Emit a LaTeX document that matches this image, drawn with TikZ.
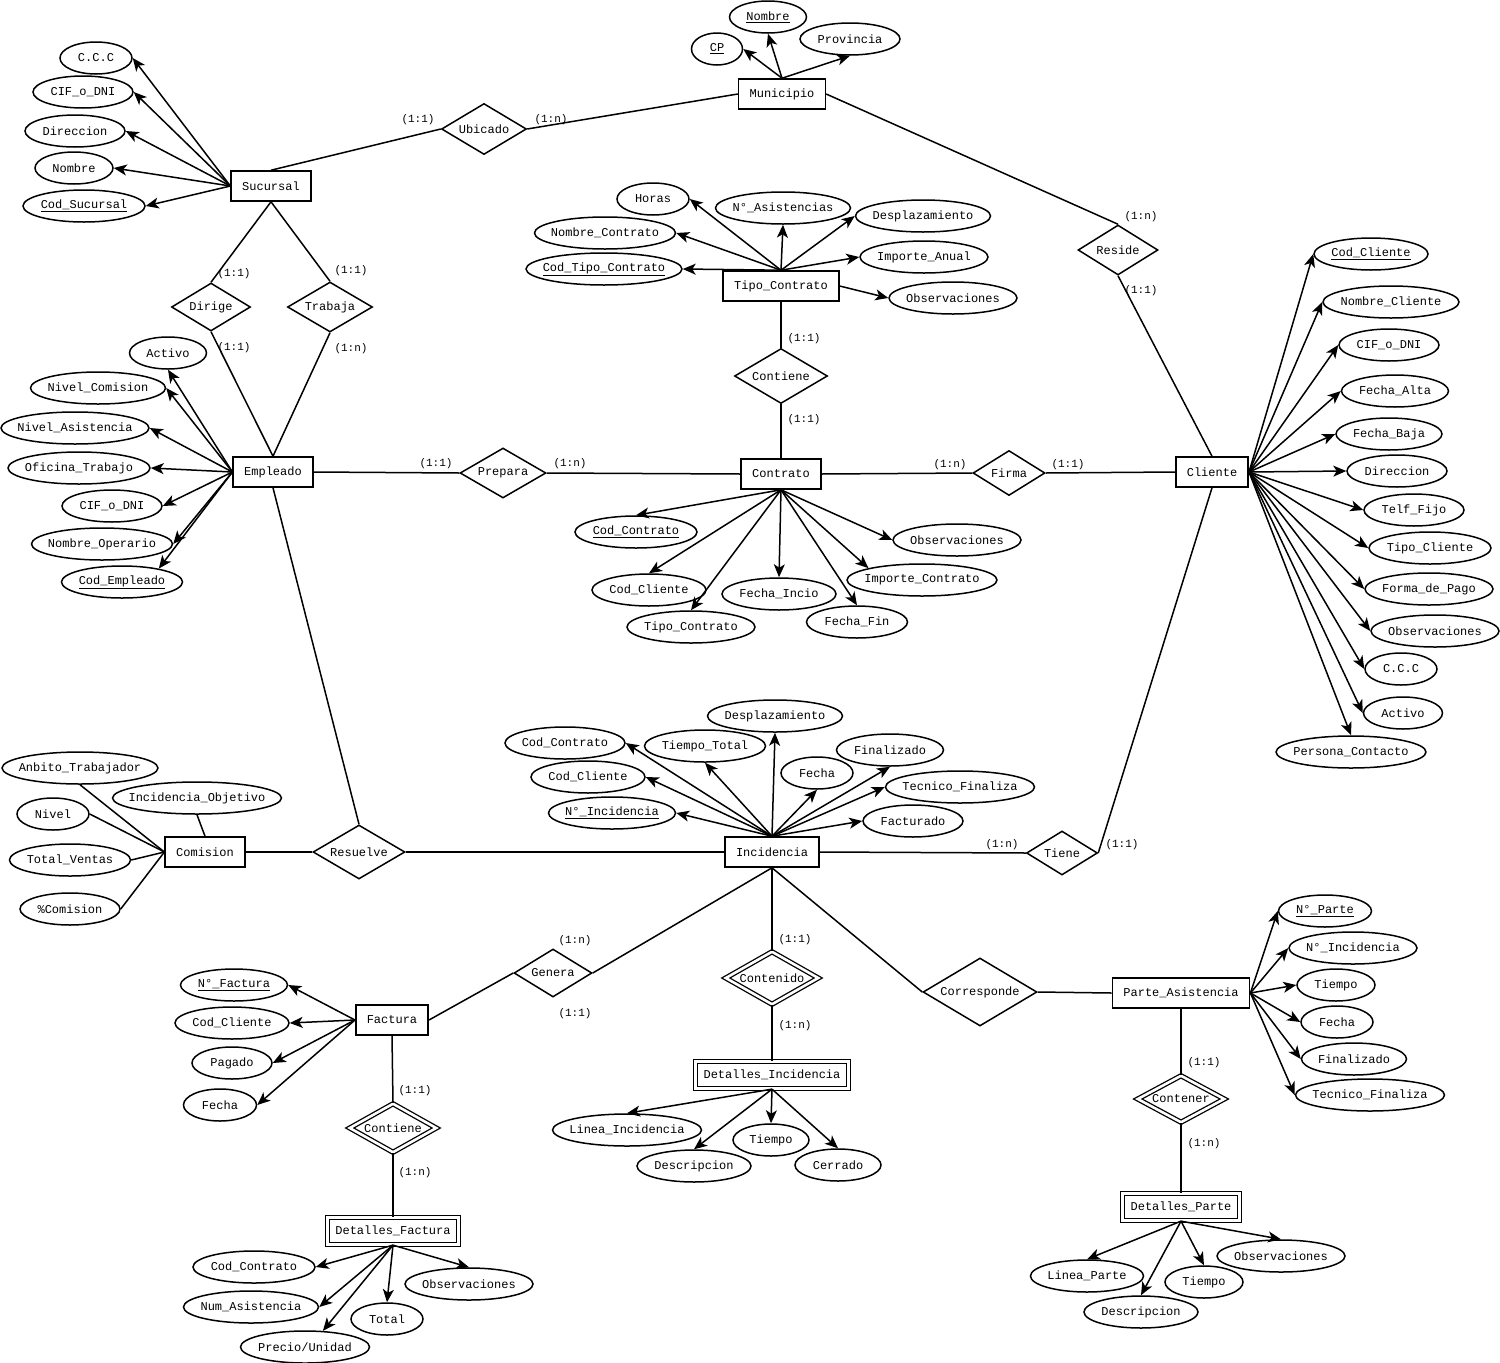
\documentclass[tikz,border=0pt]{standalone}
\usepackage{fontspec}
\usepackage{tikz}
\usetikzlibrary{shapes.geometric,arrows.meta}
\newfontfamily\ermono{Liberation Mono}
\newcommand{\cn}[1]{\makebox[0pt]{#1}}

\begin{document}
\begin{tikzpicture}[
  x=1pt, y=-1pt,
  font=\ermono\fontsize{12}{14}\selectfont,
  entity/.style={rectangle, draw, line width=1.6pt, minimum height=30pt, inner xsep=11pt, inner ysep=0pt},
  weak/.style={rectangle, draw, line width=1.3pt, double, double distance=2.6pt, minimum height=27pt, inner xsep=8pt, inner ysep=0pt},
  rel/.style 2 args={diamond, draw, line width=1.5pt, minimum width=#1, minimum height=#2, inner sep=0pt},
  weakrel/.style 2 args={diamond, draw, line width=1.3pt, double, double distance=2.6pt, minimum width=#1, minimum height=#2, inner sep=0pt},
  attr/.style={ellipse, draw, line width=1.5pt, minimum width=#1, minimum height=32pt, inner sep=0pt},
  card/.style={font=\ermono\fontsize{11}{12}\selectfont, inner sep=0pt},
  arrow/.style={-{Stealth[length=13pt, width=11pt, inset=3.5pt]}, line width=1.5pt},
  link/.style={line width=1.5pt}
]
  \useasboundingbox (0,0) rectangle (1500,1363);

  % Entities
  \node[entity] (sucursal) at (271,186) {Sucursal};
  \node[entity] (municipio) at (782,94) {Municipio};
  \node[entity] (tipocontrato) at (781,286) {Tipo\_Contrato};
  \node[entity] (empleado) at (273,472) {Empleado};
  \node[entity] (contrato) at (781,474) {Contrato};
  \node[entity] (cliente) at (1212,472) {Cliente};
  \node[entity] (comision) at (205,852) {Comision};
  \node[entity] (incidencia) at (772,852) {Incidencia};
  \node[entity] (factura) at (392,1020) {Factura};
  \node[entity] (parte) at (1181,993) {Parte\_Asistencia};
  \node[weak] (detinc) at (772,1075) {Detalles\_Incidencia};
  \node[weak] (detfact) at (393,1231) {Detalles\_Factura};
  \node[weak] (detparte) at (1181,1207) {Detalles\_Parte};

  % Relationships
  \node[rel={85}{51}] (ubicado) at (484,129) {\cn{Ubicado}};
  \node[rel={80}{50}] (reside) at (1118,250) {\cn{Reside}};
  \node[rel={79}{48}] (dirige) at (211,307) {\cn{Dirige}};
  \node[rel={85}{50}] (trabaja) at (330,307) {\cn{Trabaja}};
  \node[rel={93}{55}] (contiene) at (781,376) {\cn{Contiene}};
  \node[rel={86}{50}] (prepara) at (503,473) {\cn{Prepara}};
  \node[rel={72}{45}] (firma) at (1009,473) {\cn{Firma}};
  \node[rel={92}{54}] (resuelve) at (359,852) {\cn{Resuelve}};
  \node[rel={71}{44}] (tiene) at (1062,853) {\cn{Tiene}};
  \node[rel={78}{48}] (genera) at (553,973) {\cn{Genera}};
  \node[rel={114}{68}] (corresponde) at (980,992) {\cn{Corresponde}};
  \node[weakrel={93}{53}] (contenido) at (772,978) {\cn{Contenido}};
  \node[weakrel={87}{49}] (contienef) at (393,1128) {\cn{Contiene}};
  \node[weakrel={87}{47}] (contener) at (1181,1099) {\cn{Contener}};

  % Links between entities and relationships
  \draw[link] (sucursal.north) -- (ubicado.west);
  \draw[link] (ubicado.east) -- (municipio.west);
  \draw[link] (municipio.east) -- (reside.north);
  \draw[link] (reside.south) -- (cliente.north);
  \draw[link] (sucursal.south) -- (dirige.north);
  \draw[link] (dirige.south) -- (empleado.north);
  \draw[link] (sucursal.south) -- (trabaja.north);
  \draw[link] (trabaja.south) -- (empleado.north);
  \draw[link] (tipocontrato.south) -- (contiene.north);
  \draw[link] (contiene.south) -- (contrato.north);
  \draw[link] (empleado.east) -- (prepara.west);
  \draw[link] (prepara.east) -- (contrato.west);
  \draw[link] (contrato.east) -- (firma.west);
  \draw[link] (firma.east) -- (cliente.west);
  \draw[link] (empleado.south) -- (resuelve.north);
  \draw[link] (comision.east) -- (resuelve.west);
  \draw[link] (resuelve.east) -- (incidencia.west);
  \draw[link] (incidencia.east) -- (tiene.west);
  \draw[link] (tiene.east) -- (cliente.south);
  \draw[link] (incidencia.south) -- (genera.east);
  \draw[link] (genera.west) -- (factura.east);
  \draw[link] (incidencia.south) -- (contenido.north);
  \draw[link] (contenido.south) -- (detinc.north);
  \draw[link] (incidencia.south) -- (corresponde.west);
  \draw[link] (corresponde.east) -- (parte.west);
  \draw[link] (factura.south) -- (contienef.north);
  \draw[link] (contienef.south) -- (detfact.north);
  \draw[link] (parte.south) -- (contener.north);
  \draw[link] (contener.south) -- (detparte.north);

  % Cardinalities
  \node[card] (k1) at (418,120) {(1:1)};
  \node[card] (k2) at (551,120) {(1:n)};
  \node[card] (k3) at (1141,217) {(1:n)};
  \node[card] (k4) at (1141,291) {(1:1)};
  \node[card] (k5) at (234,274) {(1:1)};
  \node[card] (k6) at (234,348) {(1:1)};
  \node[card] (k7) at (351,271) {(1:1)};
  \node[card] (k8) at (351,349) {(1:n)};
  \node[card] (k9) at (804,339) {(1:1)};
  \node[card] (k10) at (804,420) {(1:1)};
  \node[card] (k11) at (436,464) {(1:1)};
  \node[card] (k12) at (570,464) {(1:n)};
  \node[card] (k13) at (950,465) {(1:n)};
  \node[card] (k14) at (1068,465) {(1:1)};
  \node[card] (k15) at (1002,845) {(1:n)};
  \node[card] (k16) at (1122,845) {(1:1)};
  \node[card] (k17) at (575,941) {(1:n)};
  \node[card] (k18) at (575,1014) {(1:1)};
  \node[card] (k19) at (795,940) {(1:1)};
  \node[card] (k20) at (795,1026) {(1:n)};
  \node[card] (k21) at (415,1091) {(1:1)};
  \node[card] (k22) at (415,1173) {(1:n)};
  \node[card] (k23) at (1204,1063) {(1:1)};
  \node[card] (k24) at (1204,1144) {(1:n)};

  % Sucursal attributes
  \node[attr=72] (sCCC) at (96,58) {\cn{C.C.C}};
  \node[attr=100] (sCIF) at (83,92) {\cn{CIF\_o\_DNI}};
  \node[attr=100] (sDir) at (75,131) {\cn{Direccion}};
  \node[attr=78] (sNom) at (74,168) {\cn{Nombre}};
  \node[attr=122] (sCod) at (84,206) {\cn{\underline{Cod\_Sucursal}}};
  \draw[arrow] (sucursal.west) -- (sCCC.east);
  \draw[arrow] (sucursal.west) -- (sCIF.east);
  \draw[arrow] (sucursal.west) -- (sDir.east);
  \draw[arrow] (sucursal.west) -- (sNom.east);
  \draw[arrow] (sucursal.west) -- (sCod.east);

  % Municipio attributes
  \node[attr=51] (mCP) at (717,49) {\cn{\underline{CP}}};
  \node[attr=77] (mNom) at (768,17) {\cn{\underline{Nombre}}};
  \node[attr=100] (mProv) at (850,39) {\cn{Provincia}};
  \draw[arrow] (municipio.north) -- (mCP.east);
  \draw[arrow] (municipio.north) -- (mNom.south);
  \draw[arrow] (municipio.north) -- (mProv.south);

  % Tipo_Contrato attributes
  \node[attr=72] (tHoras) at (653,199) {\cn{Horas}};
  \node[attr=135] (tNAsis) at (783,208) {\cn{N°\_Asistencias}};
  \node[attr=135] (tDesp) at (923,216) {\cn{Desplazamiento}};
  \node[attr=141] (tNomC) at (605,233) {\cn{Nombre\_Contrato}};
  \node[attr=156] (tCod) at (604,269) {\cn{\underline{Cod\_Tipo\_Contrato}}};
  \node[attr=128] (tImp) at (924,257) {\cn{Importe\_Anual}};
  \node[attr=128] (tObs) at (953,298) {\cn{Observaciones}};
  \draw[arrow] (tipocontrato.north) -- (tHoras.east);
  \draw[arrow] (tipocontrato.north) -- (tNAsis.south);
  \draw[arrow] (tipocontrato.north) -- (tDesp.west);
  \draw[arrow] (tipocontrato.north) -- (tNomC.east);
  \draw[arrow] (tipocontrato.north) -- (tCod.east);
  \draw[arrow] (tipocontrato.north) -- (tImp.west);
  \draw[arrow] (tipocontrato.east) -- (tObs.west);

  % Empleado attributes
  \node[attr=77] (eAct) at (168,353) {\cn{Activo}};
  \node[attr=135] (eNivC) at (98,388) {\cn{Nivel\_Comision}};
  \node[attr=148] (eNivA) at (75,428) {\cn{Nivel\_Asistencia}};
  \node[attr=142] (eOfi) at (79,468) {\cn{Oficina\_Trabajo}};
  \node[attr=100] (eCIF) at (112,506) {\cn{CIF\_o\_DNI}};
  \node[attr=141] (eNomO) at (102,544) {\cn{Nombre\_Operario}};
  \node[attr=121] (eCod) at (122,582) {\cn{\underline{Cod\_Empleado}}};
  \draw[arrow] (empleado.west) -- (eAct.south);
  \draw[arrow] (empleado.west) -- (eNivC.east);
  \draw[arrow] (empleado.west) -- (eNivA.east);
  \draw[arrow] (empleado.west) -- (eOfi.east);
  \draw[arrow] (empleado.west) -- (eCIF.east);
  \draw[arrow] (empleado.west) -- (eNomO.east);
  \draw[arrow] (empleado.west) -- (eCod.20);

  % Contrato attributes
  \node[attr=122] (cCod) at (636,532) {\cn{\underline{Cod\_Contrato}}};
  \node[attr=114] (cCli) at (649,590) {\cn{Cod\_Cliente}};
  \node[attr=128] (cTipo) at (691,627) {\cn{Tipo\_Contrato}};
  \node[attr=114] (cFIni) at (779,594) {\cn{Fecha\_Incio}};
  \node[attr=101] (cFFin) at (857,622) {\cn{Fecha\_Fin}};
  \node[attr=150] (cImp) at (922,580) {\cn{Importe\_Contrato}};
  \node[attr=128] (cObs) at (957,540) {\cn{Observaciones}};
  \draw[arrow] (contrato.south) -- (cCod.north);
  \draw[arrow] (contrato.south) -- (cCli.north);
  \draw[arrow] (contrato.south) -- (cTipo.north);
  \draw[arrow] (contrato.south) -- (cFIni.north);
  \draw[arrow] (contrato.south) -- (cFFin.north);
  \draw[arrow] (contrato.south) -- (cImp.north west);
  \draw[arrow] (contrato.south) -- (cObs.west);

  % Cliente attributes
  \node[attr=114] (lCod) at (1371,254) {\cn{\underline{Cod\_Cliente}}};
  \node[attr=136] (lNom) at (1391,302) {\cn{Nombre\_Cliente}};
  \node[attr=100] (lCIF) at (1389,345) {\cn{CIF\_o\_DNI}};
  \node[attr=107] (lAlta) at (1395,391) {\cn{Fecha\_Alta}};
  \node[attr=106] (lBaja) at (1389,434) {\cn{Fecha\_Baja}};
  \node[attr=100] (lDir) at (1397,471) {\cn{Direccion}};
  \node[attr=100] (lTelf) at (1414,510) {\cn{Telf\_Fijo}};
  \node[attr=122] (lTipo) at (1430,548) {\cn{Tipo\_Cliente}};
  \node[attr=128] (lForma) at (1429,589) {\cn{Forma\_de\_Pago}};
  \node[attr=128] (lObs) at (1435,631) {\cn{Observaciones}};
  \node[attr=72] (lCCC) at (1401,669) {\cn{C.C.C}};
  \node[attr=79] (lAct) at (1403,713) {\cn{Activo}};
  \node[attr=150] (lPers) at (1351,752) {\cn{Persona\_Contacto}};
  \draw[arrow] (cliente.east) -- (lCod.west);
  \draw[arrow] (cliente.east) -- (lNom.west);
  \draw[arrow] (cliente.east) -- (lCIF.west);
  \draw[arrow] (cliente.east) -- (lAlta.west);
  \draw[arrow] (cliente.east) -- (lBaja.west);
  \draw[arrow] (cliente.east) -- (lDir.west);
  \draw[arrow] (cliente.east) -- (lTelf.west);
  \draw[arrow] (cliente.east) -- (lTipo.west);
  \draw[arrow] (cliente.east) -- (lForma.west);
  \draw[arrow] (cliente.east) -- (lObs.west);
  \draw[arrow] (cliente.east) -- (lCCC.west);
  \draw[arrow] (cliente.east) -- (lAct.west);
  \draw[arrow] (cliente.east) -- (lPers.north);

  % Comision attributes
  \node[attr=156] (oAmb) at (80,768) {\cn{Anbito\_Trabajador}};
  \node[attr=169] (oIncO) at (197,798) {\cn{Incidencia\_Objetivo}};
  \node[attr=72] (oNiv) at (53,814) {\cn{Nivel}};
  \node[attr=121] (oTot) at (70,860) {\cn{Total\_Ventas}};
  \node[attr=100] (oPct) at (70,909) {\cn{\%Comision}};
  \draw[link] (comision.west) -- (oAmb.south);
  \draw[link] (comision.north) -- (oIncO.south);
  \draw[link] (comision.west) -- (oNiv.east);
  \draw[link] (comision.west) -- (oTot.east);
  \draw[link] (comision.west) -- (oPct.east);

  % Incidencia attributes
  \node[attr=135] (iDesp) at (775,716) {\cn{Desplazamiento}};
  \node[attr=120] (iCodC) at (565,743) {\cn{Cod\_Contrato}};
  \node[attr=121] (iTiem) at (705,746) {\cn{Tiempo\_Total}};
  \node[attr=107] (iFin) at (890,750) {\cn{Finalizado}};
  \node[attr=72] (iFecha) at (817,773) {\cn{Fecha}};
  \node[attr=114] (iCodCl) at (588,777) {\cn{Cod\_Cliente}};
  \node[attr=149] (iTec) at (960,787) {\cn{Tecnico\_Finaliza}};
  \node[attr=127] (iNInc) at (612,813) {\cn{\underline{N°\_Incidencia}}};
  \node[attr=100] (iFact) at (913,821) {\cn{Facturado}};
  \draw[arrow] (incidencia.north) -- (iDesp.south);
  \draw[arrow] (incidencia.north) -- (iCodC.east);
  \draw[arrow] (incidencia.north) -- (iTiem.south);
  \draw[arrow] (incidencia.north) -- (iFin.south);
  \draw[arrow] (incidencia.north) -- (iFecha.south);
  \draw[arrow] (incidencia.north) -- (iCodCl.east);
  \draw[arrow] (incidencia.north) -- (iTec.west);
  \draw[arrow] (incidencia.north) -- (iNInc.east);
  \draw[arrow] (incidencia.north) -- (iFact.west);

  % Factura attributes
  \node[attr=107] (fNum) at (234,985) {\cn{\underline{N°\_Factura}}};
  \node[attr=114] (fCli) at (232,1023) {\cn{Cod\_Cliente}};
  \node[attr=80] (fPag) at (232,1063) {\cn{Pagado}};
  \node[attr=73] (fFec) at (220,1105) {\cn{Fecha}};
  \draw[arrow] (factura.west) -- (fNum.east);
  \draw[arrow] (factura.west) -- (fCli.east);
  \draw[arrow] (factura.west) -- (fPag.east);
  \draw[arrow] (factura.west) -- (fFec.east);

  % Detalles_Factura attributes
  \node[attr=122] (dfCod) at (254,1267) {\cn{Cod\_Contrato}};
  \node[attr=135] (dfNum) at (251,1307) {\cn{Num\_Asistencia}};
  \node[attr=129] (dfPre) at (305,1347) {\cn{Precio/Unidad}};
  \node[attr=72] (dfTot) at (387,1319) {\cn{Total}};
  \node[attr=128] (dfObs) at (469,1284) {\cn{Observaciones}};
  \draw[arrow] (detfact.south) -- (dfCod.east);
  \draw[arrow] (detfact.south) -- (dfNum.east);
  \draw[arrow] (detfact.south) -- (dfPre.42);
  \draw[arrow] (detfact.south) -- (dfTot.north);
  \draw[arrow] (detfact.south) -- (dfObs.north);

  % Detalles_Incidencia attributes
  \node[attr=149] (diLin) at (627,1130) {\cn{Linea\_Incidencia}};
  \node[attr=114] (diDesc) at (694,1166) {\cn{Descripcion}};
  \node[attr=76] (diTiem) at (771,1140) {\cn{Tiempo}};
  \node[attr=86] (diCer) at (838,1165) {\cn{Cerrado}};
  \draw[arrow] (detinc.south) -- (diLin.north);
  \draw[arrow] (detinc.south) -- (diDesc.north);
  \draw[arrow] (detinc.south) -- (diTiem.north);
  \draw[arrow] (detinc.south) -- (diCer.north);

  % Parte_Asistencia attributes
  \node[attr=93] (pNum) at (1325,911) {\cn{\underline{N°\_Parte}}};
  \node[attr=128] (pNInc) at (1353,948) {\cn{N°\_Incidencia}};
  \node[attr=78] (pTiem) at (1336,985) {\cn{Tiempo}};
  \node[attr=72] (pFec) at (1337,1022) {\cn{Fecha}};
  \node[attr=105] (pFin) at (1354,1059) {\cn{Finalizado}};
  \node[attr=149] (pTec) at (1370,1095) {\cn{Tecnico\_Finaliza}};
  \draw[arrow] (parte.east) -- (pNum.west);
  \draw[arrow] (parte.east) -- (pNInc.west);
  \draw[arrow] (parte.east) -- (pTiem.west);
  \draw[arrow] (parte.east) -- (pFec.west);
  \draw[arrow] (parte.east) -- (pFin.west);
  \draw[arrow] (parte.east) -- (pTec.west);

  % Detalles_Parte attributes
  \node[attr=113] (dpLin) at (1087,1276) {\cn{Linea\_Parte}};
  \node[attr=114] (dpDesc) at (1141,1312) {\cn{Descripcion}};
  \node[attr=78] (dpTiem) at (1204,1282) {\cn{Tiempo}};
  \node[attr=128] (dpObs) at (1281,1256) {\cn{Observaciones}};
  \draw[arrow] (detparte.south) -- (dpLin.north);
  \draw[arrow] (detparte.south) -- (dpDesc.north);
  \draw[arrow] (detparte.south) -- (dpTiem.north);
  \draw[arrow] (detparte.south) -- (dpObs.north);
\end{tikzpicture}
\end{document}
